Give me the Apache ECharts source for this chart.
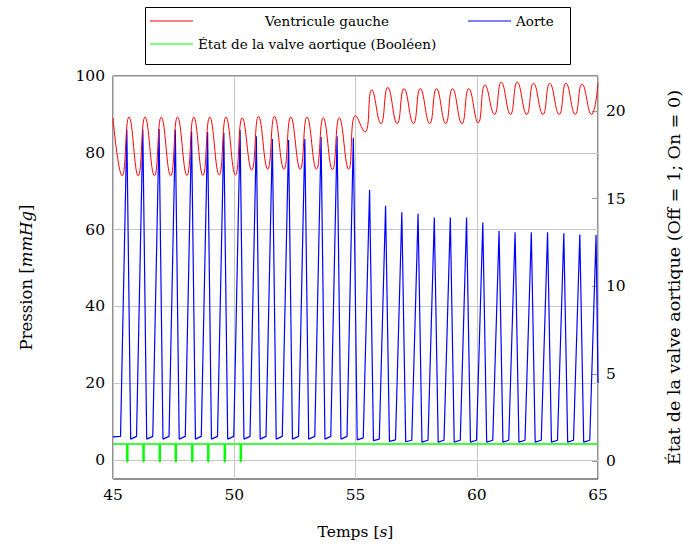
<!DOCTYPE html>
<html>
<head>
<meta charset="utf-8">
<script src="https://cdn.jsdelivr.net/npm/echarts@6/dist/echarts.min.js"></script>
<style>
html,body{margin:0;padding:0;background:#fff;}
#chart{width:683px;height:548px;}
</style>
</head>
<body>
<div id="chart"></div>
<script>
// ---- Data ----
const seriesNames = ['Ventricule gauche', 'Aorte', 'État de la valve aortique (Booléen)'];

const xTicks = [45, 50, 55, 60, 65];
const leftTicks = [0, 20, 40, 60, 80, 100];
const rightTicks = [0, 5, 10, 15, 20];

// Ventricule gauche (red)
const ventT = [45.00,
  45.38, 45.66, 46.04, 46.32, 46.71, 46.99, 47.38, 47.66, 48.05, 48.33,
  48.71, 48.99, 49.38, 49.66, 50.05, 50.33, 50.72, 51.00, 51.38, 51.66,
  52.05, 52.33, 52.72, 53.00, 53.39, 53.67, 54.05, 54.33, 54.72, 55.00,
  55.39, 55.67, 56.05, 56.33, 56.72, 57.00, 57.39, 57.67, 58.06, 58.34,
  58.72, 59.00, 59.39, 59.67, 60.06, 60.34, 60.73, 61.01, 61.39, 61.67,
  62.06, 62.34, 62.73, 63.01, 63.40, 63.68, 64.06, 64.34, 64.73, 65.00];
const ventV = [89.0,
  74.0, 89.3, 74.0, 89.3, 74.0, 89.3, 74.0, 89.3, 74.1, 89.3,
  74.1, 89.3, 74.2, 89.3, 74.2, 89.1, 75.5, 89.5, 75.7, 89.5,
  75.7, 89.3, 75.7, 89.3, 75.7, 89.1, 75.6, 89.1, 75.7, 89.7,
  85.4, 96.4, 87.6, 97.0, 87.6, 96.7, 87.6, 96.7, 87.6, 96.7,
  87.6, 96.7, 87.6, 96.7, 87.8, 97.7, 90.0, 98.4, 90.0, 98.4,
  90.0, 98.1, 90.0, 98.1, 90.0, 98.1, 90.0, 97.9, 90.0, 98.1];

// Aorte (blue)
const aorteT = [45.00,
  45.31, 45.57, 45.73, 45.97, 46.23, 46.39, 46.64, 46.90, 47.06,
  47.31, 47.57, 47.73, 47.98, 48.24, 48.40, 48.64, 48.90, 49.06,
  49.31, 49.57, 49.73, 49.98, 50.24, 50.40, 50.65, 50.91, 51.07,
  51.31, 51.57, 51.73, 51.98, 52.24, 52.40, 52.65, 52.91, 53.07,
  53.32, 53.58, 53.74, 53.98, 54.24, 54.40, 54.65, 54.91, 55.07,
  55.32, 55.58, 55.74, 55.98, 56.24, 56.40, 56.65, 56.91, 57.07,
  57.32, 57.58, 57.74, 57.99, 58.25, 58.41, 58.65, 58.91, 59.07,
  59.32, 59.58, 59.74, 59.99, 60.25, 60.41, 60.66, 60.92, 61.08,
  61.32, 61.58, 61.74, 61.99, 62.25, 62.41, 62.66, 62.92, 63.08,
  63.33, 63.59, 63.75, 63.99, 64.25, 64.41, 64.66, 64.92, 65.00];
const aorteV = [6.0,
  6.1, 86.0, 5.4, 6.1, 86.0, 5.4, 6.1, 86.2, 5.4,
  6.1, 86.0, 5.4, 6.1, 85.7, 5.4, 6.1, 85.4, 5.4,
  6.1, 85.2, 5.4, 6.1, 85.9, 5.4, 6.1, 84.3, 5.4,
  6.1, 83.6, 5.4, 6.1, 83.3, 5.4, 6.1, 83.6, 5.4,
  6.1, 84.1, 5.4, 6.1, 84.3, 5.4, 6.1, 83.9, 5.2,
  5.7, 70.3, 5.0, 5.4, 66.2, 4.8, 5.2, 64.5, 4.7,
  5.1, 64.1, 4.6, 5.1, 63.1, 4.6, 5.1, 63.1, 4.6,
  5.1, 63.1, 4.6, 5.1, 61.8, 4.6, 5.1, 59.6, 4.6,
  5.1, 59.3, 4.6, 5.1, 59.3, 4.6, 5.1, 59.3, 4.6,
  5.1, 59.0, 4.6, 5.1, 58.7, 4.6, 5.1, 58.6, 20.0];

// État de la valve aortique (green, right axis)
const valveT = [45.00,
  45.57, 45.57, 45.61, 45.61,
  46.24, 46.24, 46.28, 46.28,
  46.91, 46.91, 46.95, 46.95,
  47.57, 47.57, 47.61, 47.61,
  48.25, 48.25, 48.29, 48.29,
  48.91, 48.91, 48.95, 48.95,
  49.59, 49.59, 49.63, 49.63,
  50.25, 50.25, 50.29, 50.29,
  65.00];
const valveV = [1,
  1, 0, 0, 1,
  1, 0, 0, 1,
  1, 0, 0, 1,
  1, 0, 0, 1,
  1, 0, 0, 1,
  1, 0, 0, 1,
  1, 0, 0, 1,
  1, 0, 0, 1,
  1];

// ---- Chart ----
const pair = (ts, vs) => ts.map((t, i) => [t, vs[i]]);
const FONT = 'DejaVu Serif';

const chart = echarts.init(document.getElementById('chart'), null, {renderer: 'svg'});

const legendBase = {
  orient: 'horizontal',
  padding: 0,
  icon: 'rect',
  itemWidth: 43,
  itemHeight: 1,
  textStyle: {fontFamily: FONT, fontSize: 13.5, color: '#000'},
  selectedMode: false
};

chart.setOption({
  backgroundColor: '#fff',
  animation: false,
  grid: {left: 113, right: 85, top: 76, bottom: 69, outerBoundsMode: 'none', containLabel: false,
    show: true, borderColor: '#222', borderWidth: 1, backgroundColor: 'transparent'},
  legend: [
    Object.assign({}, legendBase, {data: [seriesNames[0]], left: 150, top: 14,
      textStyle: {fontFamily: FONT, fontSize: 13.5, color: '#000', padding: [0, 0, 0, 67]}}),
    Object.assign({}, legendBase, {data: [seriesNames[1]], left: 468, top: 14}),
    Object.assign({}, legendBase, {data: [seriesNames[2]], left: 150, top: 37})
  ],
  graphic: [{
    type: 'rect', left: 143, top: 5,
    shape: {x: 0, y: 0, width: 425, height: 57},
    style: {fill: 'none', stroke: '#000', lineWidth: 1}
  }],
  xAxis: {
    type: 'value', min: xTicks[0], max: xTicks[xTicks.length - 1], interval: 5,
    name: 'Temps [{i|s}]', nameLocation: 'middle', nameGap: 45,
    nameTextStyle: {fontFamily: FONT, fontSize: 15.5, color: '#000', rich: {i: {fontFamily: FONT, fontSize: 15.5, fontStyle: 'italic', color: '#000'}}},
    axisLine: {show: false},
    axisTick: {show: false},
    axisLabel: {fontFamily: FONT, fontSize: 15.5, color: '#000', margin: 8},
    splitLine: {show: true, lineStyle: {color: '#c8c8c8', width: 1}}
  },
  yAxis: [{
    type: 'value', min: -5, max: 100, position: 'left',
    name: 'Pression [{i|mmHg}]', nameLocation: 'middle', nameGap: 78, nameRotate: 90,
    nameTextStyle: {fontFamily: FONT, fontSize: 16.5, color: '#000', rich: {i: {fontFamily: FONT, fontSize: 16.5, fontStyle: 'italic', color: '#000'}}},
    axisLine: {show: false},
    axisTick: {show: false, customValues: leftTicks},
    axisLabel: {fontFamily: FONT, fontSize: 15.5, color: '#000', margin: 8, customValues: leftTicks},
    splitLine: {show: true, lineStyle: {color: '#c8c8c8', width: 1}}
  }, {
    type: 'value', min: -1, max: 22, position: 'right',
    name: 'État de la valve aortique (Off = 1; On = 0)', nameLocation: 'middle', nameGap: 67, nameRotate: 90,
    nameTextStyle: {fontFamily: FONT, fontSize: 17.5, color: '#000'},
    axisLine: {show: false},
    axisTick: {show: true, inside: true, length: 6, lineStyle: {color: '#999'}, customValues: rightTicks},
    axisLabel: {fontFamily: FONT, fontSize: 15.5, color: '#000', margin: 8, customValues: rightTicks},
    splitLine: {show: false}
  }],
  series: [{
    name: seriesNames[0], type: 'line', yAxisIndex: 0,
    data: pair(ventT, ventV), smooth: 0.5, symbol: 'none',
    lineStyle: {color: '#ff0000', width: 1}, itemStyle: {color: '#ff0000'}, z: 3
  }, {
    name: seriesNames[1], type: 'line', yAxisIndex: 0,
    data: pair(aorteT, aorteV), symbol: 'none',
    lineStyle: {color: '#0000ff', width: 1.2}, itemStyle: {color: '#0000ff'}, z: 2
  }, {
    name: seriesNames[2], type: 'line', yAxisIndex: 1,
    data: pair(valveT, valveV), symbol: 'none',
    lineStyle: {color: '#00ff00', width: 1.5}, itemStyle: {color: '#00ff00'}, z: 4
  }]
});
</script>
</body>
</html>
